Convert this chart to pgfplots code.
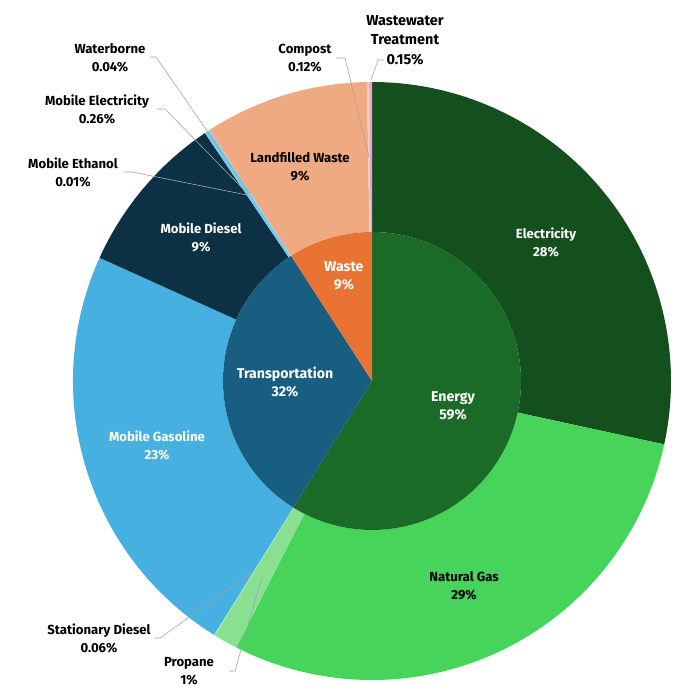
\documentclass[border=0pt]{standalone}
\usepackage{pgfplots}
\pgfplotsset{compat=1.18}
\usepackage{pgfplotstable}
\usepackage{fontspec}
\setmainfont{Fira Sans}
\definecolor{cElec}{HTML}{14501E}
\definecolor{cGas}{HTML}{46D45A}
\definecolor{cProp}{HTML}{89E090}
\definecolor{cSDiesel}{HTML}{A8E8B0}
\definecolor{cGasol}{HTML}{46B0E0}
\definecolor{cMDiesel}{HTML}{0C3044}
\definecolor{cEth}{HTML}{5AA0C8}
\definecolor{cMElec}{HTML}{78C8EB}
\definecolor{cWater}{HTML}{A0D8F0}
\definecolor{cLand}{HTML}{F0AA82}
\definecolor{cComp}{HTML}{F8CCB0}
\definecolor{cWW}{HTML}{E6A0DC}
\definecolor{cEnergy}{HTML}{1B6B28}
\definecolor{cTrans}{HTML}{175E80}
\definecolor{cWaste}{HTML}{E87332}
\definecolor{lead}{HTML}{A5A5A5}

\pgfplotstableread{
value col
28.4 cElec
29.1 cGas
1.3 cProp
0.06 cSDiesel
22.9 cGasol
8.8 cMDiesel
0.01 cEth
0.26 cMElec
0.04 cWater
8.86 cLand
0.12 cComp
0.15 cWW
}\outerring

\pgfplotstableread{
value col
58.86 cEnergy
32.01 cTrans
9.13 cWaste
}\innerring

\newcommand\drawring[3]{%
  \pgfplotstablegetrowsof{#1}\pgfmathtruncatemacro\N{\pgfplotsretval-1}%
  \gdef\cum{0}%
  \foreach \i in {0,...,\N}{%
    \pgfplotstablegetelem{\i}{value}\of{#1}\let\v\pgfplotsretval
    \pgfplotstablegetelem{\i}{col}\of{#1}\let\c\pgfplotsretval
    \pgfmathsetmacro\a{90-3.6*\cum}%
    \pgfmathsetmacro\b{90-3.6*(\cum+\v)}%
    \edef\tmp{\noexpand\fill[\c] ([shift={(\a:#3bp)}]axis cs:372,381) arc[start angle=\a,end angle=\b,radius=#3bp] -- ([shift={(\b:#2bp)}]axis cs:372,381) arc[start angle=\b,end angle=\a,radius=#2bp] -- cycle;}%
    \tmp
    \pgfmathsetmacro\cum{\cum+\v}\xdef\cum{\cum}%
  }%
}

\begin{document}
\begin{tikzpicture}
\begin{axis}[
  x=1bp, y=1bp, xmin=0, xmax=677, ymin=0, ymax=698, y dir=reverse,
  hide axis, clip=false, scale only axis,
]
\path (axis cs:0,0) rectangle (axis cs:677,698);
\drawring{\outerring}{149}{299}
\drawring{\innerring}{0}{149}

\begin{scope}[every node/.style={font=\fontsize{13.2}{18}\selectfont\bfseries, align=center, inner sep=0pt}]
\begin{scope}[every node/.append style={font=\fontsize{14.2}{18.5}\selectfont\bfseries}]
\node[white] at (axis cs:453,406) {Energy\\59\%};
\node[white] at (axis cs:285,382) {Transportation\\32\%};
\node[white] at (axis cs:344,276) {Waste\\9\%};
\end{scope}
\node[white] at (axis cs:546,242) {Electricity\\28\%};
\node at (axis cs:464,586) {Natural Gas\\29\%};
\node[white] at (axis cs:157,445) {Mobile Gasoline\\23\%};
\node[white] at (axis cs:201,237) {Mobile Diesel\\9\%};
\node at (axis cs:300,167) {Landfilled Waste\\9\%};
\node at (axis cs:110,58) {Waterborne\\0.04\%};
\node at (axis cs:97,109) {Mobile Electricity\\0.26\%};
\node at (axis cs:73,172) {Mobile Ethanol\\0.01\%};
\node at (axis cs:305,58) {Compost\\0.12\%};
\node at (axis cs:99,638) {Stationary Diesel\\0.06\%};
\node at (axis cs:189,671) {Propane\\1\%};
\node[font=\fontsize{14.5}{19.5}\selectfont\bfseries] at (axis cs:405,40) {Wastewater\\Treatment\\0.15\%};
\end{scope}

\begin{scope}[lead, line width=0.6pt]
\draw (axis cs:150,57) -- (axis cs:156,57) -- (axis cs:250,193);
\draw (axis cs:157,109) -- (axis cs:165,109) -- (axis cs:248,194);
\draw (axis cs:124,172) -- (axis cs:132,172) -- (axis cs:247,195);
\draw (axis cs:336,58) -- (axis cs:345,58) -- (axis cs:369,157);
\draw (axis cs:384,60) -- (axis cs:378,60) -- (axis cs:371,80);
\draw (axis cs:154,638) -- (axis cs:160,638) -- (axis cs:254,571);
\draw (axis cs:229,671) -- (axis cs:235,671) -- (axis cs:262,576);
\end{scope}
\end{axis}
\end{tikzpicture}
\end{document}
